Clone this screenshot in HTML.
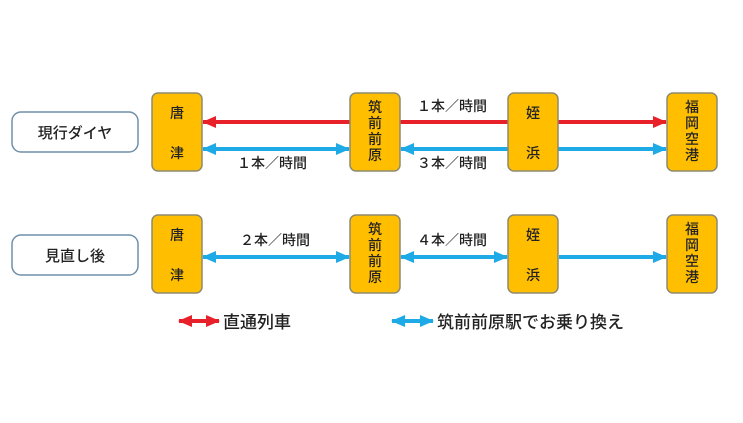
<!DOCTYPE html><html><head><meta charset="utf-8"><style>
body{margin:0;width:743px;height:418px;background:#fff;font-family:"Liberation Sans","Noto Sans CJK JP",sans-serif;}
</style></head><body>
<svg width="743" height="418" xmlns="http://www.w3.org/2000/svg" font-family="Liberation Sans, Noto Sans CJK JP, sans-serif">
<defs>
<marker id="r" markerWidth="14" markerHeight="12" refX="13" refY="6" orient="auto-start-reverse" markerUnits="userSpaceOnUse"><path d="M0,0 L14,6 L0,12 Z" fill="#e8202a"/></marker>
<marker id="b" markerWidth="14" markerHeight="12" refX="13" refY="6" orient="auto-start-reverse" markerUnits="userSpaceOnUse"><path d="M0,0 L14,6 L0,12 Z" fill="#1eaae6"/></marker>
</defs>
<g fill="#fff" stroke="#6f8fa8" stroke-width="1.5">
<rect x="12" y="112" width="126" height="40" rx="9"/>
<rect x="12" y="235" width="126" height="40" rx="9"/>
</g>
<g font-size="15" fill="#222" text-anchor="middle" font-weight="500">
<text x="75" y="138">現行ダイヤ</text>
<text x="75" y="261">見直し後</text>
</g>
<g stroke-width="4">
<line x1="203" y1="122" x2="350" y2="122" stroke="#e8202a" marker-start="url(#r)"/>
<line x1="400" y1="122" x2="508" y2="122" stroke="#e8202a"/>
<line x1="558" y1="122" x2="666" y2="122" stroke="#e8202a" marker-end="url(#r)"/>
<line x1="203" y1="149" x2="349" y2="149" stroke="#1eaae6" marker-start="url(#b)" marker-end="url(#b)"/>
<line x1="401" y1="149" x2="508" y2="149" stroke="#1eaae6" marker-start="url(#b)"/>
<line x1="558" y1="149" x2="666" y2="149" stroke="#1eaae6" marker-end="url(#b)"/>
<line x1="203" y1="257" x2="349" y2="257" stroke="#1eaae6" marker-start="url(#b)" marker-end="url(#b)"/>
<line x1="401" y1="257" x2="507" y2="257" stroke="#1eaae6" marker-start="url(#b)" marker-end="url(#b)"/>
<line x1="559" y1="257" x2="666" y2="257" stroke="#1eaae6" marker-end="url(#b)"/>
<line x1="179" y1="321" x2="219" y2="321" stroke="#e8202a" marker-start="url(#r)" marker-end="url(#r)"/>
<line x1="392" y1="321" x2="433" y2="321" stroke="#1eaae6" marker-start="url(#b)" marker-end="url(#b)"/>
</g>
<g fill="#ffbe00" stroke="#8d8a70" stroke-width="1.5">
<rect x="152" y="93" width="50" height="78" rx="6"/>
<rect x="350" y="93" width="50" height="78" rx="6"/>
<rect x="508" y="93" width="50" height="78" rx="6"/>
<rect x="667" y="93" width="50" height="78" rx="6"/>
<rect x="152" y="215" width="50" height="78" rx="6"/>
<rect x="350" y="215" width="50" height="78" rx="6"/>
<rect x="508" y="215" width="50" height="78" rx="6"/>
<rect x="667" y="215" width="50" height="78" rx="6"/>
</g>
<g font-size="14" fill="#222" text-anchor="middle" font-weight="500">
<text x="177" y="118">唐</text><text x="177" y="158">津</text>
<text x="375" y="112">筑</text><text x="375" y="128">前</text><text x="375" y="144">前</text><text x="375" y="160">原</text>
<text x="533" y="118">姪</text><text x="533" y="158">浜</text>
<text x="692" y="112">福</text><text x="692" y="128">岡</text><text x="692" y="144">空</text><text x="692" y="160">港</text>
<text x="177" y="240">唐</text><text x="177" y="280">津</text>
<text x="375" y="234">筑</text><text x="375" y="250">前</text><text x="375" y="266">前</text><text x="375" y="282">原</text>
<text x="533" y="240">姪</text><text x="533" y="280">浜</text>
<text x="692" y="234">福</text><text x="692" y="250">岡</text><text x="692" y="266">空</text><text x="692" y="282">港</text>
</g>
<g font-size="14" fill="#222" font-weight="500">
<text x="417" y="111">１本／時間</text>
<text x="237" y="168">１本／時間</text>
<text x="417" y="168">３本／時間</text>
<text x="240" y="245">２本／時間</text>
<text x="417" y="245">４本／時間</text>
</g>
<g font-size="17" fill="#222" font-weight="500">
<text x="223" y="328">直通列車</text>
<text x="437" y="328">筑前前原駅でお乗り換え</text>
</g>
</svg>
</body></html>
